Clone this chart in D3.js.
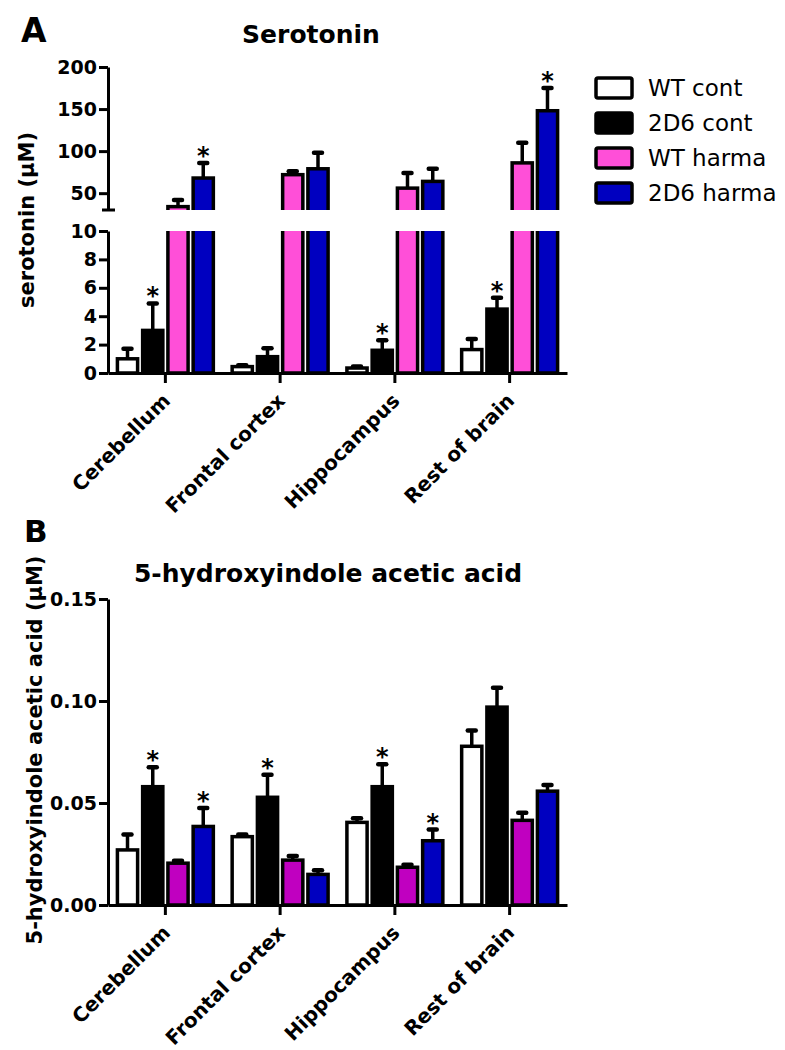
<!DOCTYPE html>
<html>
<head>
<meta charset="utf-8">
<script src="https://cdn.jsdelivr.net/npm/d3@7"></script>
<style>
  body { margin: 0; background: #fff; }
  svg text { font-family: "DejaVu Sans", sans-serif; fill: #000; }
  .axis path, .axis line { stroke: #000; stroke-width: 3; }
  .axis text { font-weight: bold; font-size: 19px; }
</style>
</head>
<body>
<div id="chart"></div>
<script>

// brain regions and the four treatment groups
var regions = ["Cerebellum", "Frontal cortex", "Hippocampus", "Rest of brain"];
var groups = ["WT cont", "2D6 cont", "WT harma", "2D6 harma"];

// serotonin (uM): mean and SEM, one array per group (order = regions)
var serWtCont = [1.0, 0.45, 0.35, 1.65];
var serWtContErr = [0.7, 0.1, 0.1, 0.75];
var ser2d6Cont = [3.0, 1.15, 1.6, 4.5];
var ser2d6ContErr = [1.9, 0.6, 0.7, 0.8];
var serWtHarma = [34, 72, 56, 86];
var serWtHarmaErr = [8, 4, 18, 24];
var ser2d6Harma = [68, 79, 64, 148];
var ser2d6HarmaErr = [18, 19, 15, 27];
// which groups carry a "*" in each region
var serStars = [[1, 3], [], [1], [1, 3]];

// 5-hydroxyindole acetic acid (uM)
var hiaaWtCont = [0.027, 0.0335, 0.0405, 0.0778];
var hiaaWtContErr = [0.0075, 0.001, 0.002, 0.0078];
var hiaa2d6Cont = [0.058, 0.0528, 0.058, 0.097];
var hiaa2d6ContErr = [0.0095, 0.011, 0.011, 0.0095];
var hiaaWtHarma = [0.0205, 0.022, 0.0185, 0.0415];
var hiaaWtHarmaErr = [0.0012, 0.002, 0.0012, 0.0037];
var hiaa2d6Harma = [0.0385, 0.015, 0.0315, 0.0558];
var hiaa2d6HarmaErr = [0.009, 0.002, 0.0055, 0.003];
var hiaaStars = [[1, 3], [1], [1, 3], []];

// tick values
var serLowTicks = [0, 2, 4, 6, 8, 10];
var serHighTicks = [50, 100, 150, 200];
var hiaaTicks = [0, 0.05, 0.10, 0.15];

var topColors = ["#ffffff", "#000000", "#ff4fd8", "#0000c0"];
var bottomColors = ["#ffffff", "#000000", "#c000c0", "#0000c0"];

// build flat rows for the grouped bars
function makeRows(means, errs, stars) {
  var rows = [];
  regions.forEach(function (r, i) {
    groups.forEach(function (g, j) {
      rows.push({
        region: r,
        group: j,
        mean: means[j][i],
        err: errs[j][i],
        star: stars[i].indexOf(j) >= 0
      });
    });
  });
  return rows;
}

var serRows = makeRows([serWtCont, ser2d6Cont, serWtHarma, ser2d6Harma],
  [serWtContErr, ser2d6ContErr, serWtHarmaErr, ser2d6HarmaErr], serStars);
var hiaaRows = makeRows([hiaaWtCont, hiaa2d6Cont, hiaaWtHarma, hiaa2d6Harma],
  [hiaaWtContErr, hiaa2d6ContErr, hiaaWtHarmaErr, hiaa2d6HarmaErr], hiaaStars);

var svg = d3.select("#chart")
  .append("svg")
  .attr("width", 785)
  .attr("height", 1050);

// x scales shared by both panels
var x0 = d3.scaleBand()
  .domain(regions)
  .range([108, 567])
  .paddingInner(0.12)
  .paddingOuter(0.06);

var x1 = d3.scaleBand()
  .domain(d3.range(groups.length))
  .range([0, x0.bandwidth()])
  .paddingInner(0.2)
  .paddingOuter(0.1);

// y scales (top panel has a broken axis)
var yLow = d3.scaleLinear().domain([0, 10]).range([373, 231]);
var yHigh = d3.scaleLinear().domain([30, 200]).range([210, 67]);
var yHiaa = d3.scaleLinear().domain([0, 0.15]).range([905, 599]);

// clip regions for the two segments of the broken axis
var defs = svg.append("defs");
defs.append("clipPath").attr("id", "clipHigh")
  .append("rect").attr("x", 100).attr("y", 0).attr("width", 500).attr("height", 210);
defs.append("clipPath").attr("id", "clipLow")
  .append("rect").attr("x", 100).attr("y", 231).attr("width", 500).attr("height", 170);

// draw bars, error bars and stars; lo/hi = value range of this segment
function drawBars(rows, y, base, colors, clip, lo, hi) {
  var g = svg.append("g");
  if (clip) g.attr("clip-path", "url(#" + clip + ")");

  var cx = d => x0(d.region) + x1(d.group) + x1.bandwidth() / 2;

  // error bar stems
  g.selectAll(".stem")
    .data(rows)
    .enter()
    .append("line")
    .attr("x1", cx)
    .attr("x2", cx)
    .attr("y1", d => y(d.mean))
    .attr("y2", d => y(d.mean + d.err))
    .attr("stroke", "#000")
    .attr("stroke-width", 3.5);

  // caps
  g.selectAll(".cap")
    .data(rows)
    .enter()
    .append("line")
    .attr("x1", d => cx(d) - 4)
    .attr("x2", d => cx(d) + 4)
    .attr("y1", d => y(d.mean + d.err))
    .attr("y2", d => y(d.mean + d.err))
    .attr("stroke", "#000")
    .attr("stroke-width", 4.5)
    .attr("stroke-linecap", "round");

  g.selectAll("rect")
    .data(rows)
    .enter()
    .append("rect")
    .attr("x", d => x0(d.region) + x1(d.group))
    .attr("y", d => y(d.mean))
    .attr("width", x1.bandwidth())
    .attr("height", d => Math.max(0, base - y(d.mean)))
    .attr("fill", d => colors[d.group])
    .attr("stroke", "#000")
    .attr("stroke-width", 3.5);

  // stars only where the cap falls in this segment
  svg.append("g")
    .selectAll("text")
    .data(rows.filter(d => d.star && d.mean + d.err >= lo && d.mean + d.err <= hi))
    .enter()
    .append("text")
    .attr("x", cx)
    .attr("y", d => y(d.mean + d.err) + 1)
    .attr("text-anchor", "middle")
    .style("font-size", "24px")
    .style("font-weight", "bold")
    .text("*");
}

drawBars(serRows, yHigh, 225, topColors, "clipHigh", 30, 200);
drawBars(serRows, yLow, 373, topColors, "clipLow", 0, 10);
drawBars(hiaaRows, yHiaa, 905, bottomColors, null, 0, 0.15);

// y axes
svg.append("g")
  .attr("class", "axis")
  .attr("transform", "translate(108,0)")
  .call(d3.axisLeft(yHigh).tickValues(serHighTicks).tickSize(9).tickSizeOuter(0).tickPadding(2));

svg.append("line")
  .attr("x1", 102).attr("x2", 115)
  .attr("y1", 210).attr("y2", 210)
  .attr("stroke", "#000").attr("stroke-width", 3);

svg.append("g")
  .attr("class", "axis")
  .attr("transform", "translate(108,0)")
  .call(d3.axisLeft(yLow).tickValues(serLowTicks).tickSize(9).tickSizeOuter(0).tickPadding(2));

svg.append("g")
  .attr("class", "axis")
  .attr("transform", "translate(108,0)")
  .call(d3.axisLeft(yHiaa).tickValues(hiaaTicks).tickFormat(d3.format(".2f"))
    .tickSize(9).tickSizeOuter(0).tickPadding(2));

// x axes with rotated category labels
function drawXAxis(yPos) {
  svg.append("g")
    .attr("class", "axis")
    .attr("transform", `translate(0, ${yPos})`)
    .call(d3.axisBottom(x0).tickSize(10).tickSizeOuter(0).tickFormat(""));

  svg.append("g")
    .selectAll("text")
    .data(regions)
    .enter()
    .append("text")
    .attr("transform", d => `translate(${x0(d) + x0.bandwidth() / 2 + 6}, ${yPos + 29}) rotate(-45)`)
    .attr("text-anchor", "end")
    .style("font-size", "20px")
    .style("font-weight", "bold")
    .text(d => d);
}

drawXAxis(373);
drawXAxis(905);

// panel letters, titles and axis titles
svg.append("text").attr("x", 21).attr("y", 42)
  .style("font-size", "33px").style("font-weight", "bold").text("A");
svg.append("text").attr("x", 24).attr("y", 542)
  .style("font-size", "31px").style("font-weight", "bold").text("B");

svg.append("text").attr("x", 311).attr("y", 43)
  .attr("text-anchor", "middle")
  .style("font-size", "25px").style("font-weight", "bold")
  .text("Serotonin");
svg.append("text").attr("x", 328).attr("y", 582)
  .attr("text-anchor", "middle")
  .style("font-size", "25px").style("font-weight", "bold")
  .text("5-hydroxyindole acetic acid");

svg.append("text")
  .attr("transform", "translate(34, 220) rotate(-90)")
  .attr("text-anchor", "middle")
  .style("font-size", "21px").style("font-weight", "bold")
  .text("serotonin (\u03bcM)");
svg.append("text")
  .attr("transform", "translate(42, 750) rotate(-90)")
  .attr("text-anchor", "middle")
  .style("font-size", "21px").style("font-weight", "bold")
  .text("5-hydroxyindole acetic acid (\u03bcM)");

// legend
var legend = svg.append("g")
  .selectAll("g")
  .data(groups)
  .enter()
  .append("g")
  .attr("transform", (d, i) => `translate(596, ${88 + i * 35})`);

legend.append("rect")
  .attr("x", 0).attr("y", -10)
  .attr("width", 36).attr("height", 20)
  .attr("rx", 2)
  .attr("fill", (d, i) => topColors[i])
  .attr("stroke", "#000")
  .attr("stroke-width", 3.5);

legend.append("text")
  .attr("x", 52).attr("y", 8)
  .style("font-size", "23px")
  .text(d => d);

</script>
</body>
</html>
